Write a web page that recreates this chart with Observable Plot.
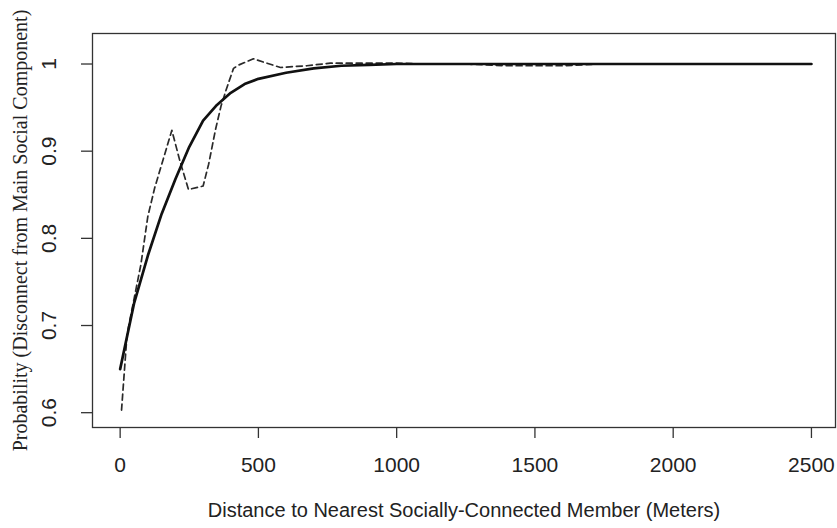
<!DOCTYPE html>
<html>
<head>
<meta charset="utf-8">
<script src="https://cdn.jsdelivr.net/npm/d3@7"></script>
<script src="https://cdn.jsdelivr.net/npm/@observablehq/plot@0.6"></script>
<style>
  html, body { margin: 0; padding: 0; background: #fff; }
</style>
</head>
<body>
<div id="chart"></div>
<script>
// Smoothed (solid) curve: distance (m) -> probability
const solidX = [0, 50, 100, 150, 200, 250, 300, 350, 400, 450, 500, 600, 700, 800, 900, 1000, 1250, 1500, 2000, 2500];
const solidY = [0.650, 0.725, 0.780, 0.828, 0.868, 0.905, 0.935, 0.953, 0.967, 0.977, 0.983, 0.990, 0.995, 0.998, 0.999, 1.0, 1.0, 1.0, 1.0, 1.0];

// Empirical (dashed) curve
const dashX = [5, 25, 50, 75, 100, 125, 155, 187, 215, 247, 300, 320, 345, 365, 385, 410, 430, 482, 530, 580, 675, 760, 1000, 1100, 1250, 1400, 1600, 1730];
const dashY = [0.603, 0.690, 0.730, 0.770, 0.825, 0.858, 0.890, 0.924, 0.890, 0.856, 0.860, 0.885, 0.925, 0.952, 0.972, 0.995, 0.999, 1.006, 1.001, 0.996, 0.998, 1.001, 1.001, 1.0, 1.0, 0.998, 0.998, 1.0];

const xTicks = [0, 500, 1000, 1500, 2000, 2500];
const yTicks = [0.6, 0.7, 0.8, 0.9, 1];
const yTickLabels = ["0.6", "0.7", "0.8", "0.9", "1"];

const xTitle = "Distance to Nearest Socially-Connected Member (Meters)";
const yTitle = "Probability (Disconnect from Main Social Component)";

const solid = solidX.map((x, i) => ({x, y: solidY[i]}));
const dashed = dashX.map((x, i) => ({x, y: dashY[i]}));
const yLabelData = yTicks.map((v, i) => ({v, label: yTickLabels[i]}));

const sans = "'Liberation Sans', Arial, sans-serif";

const chart = Plot.plot({
  width: 837,
  height: 528,
  marginLeft: 92,
  marginTop: 33,
  marginBottom: 101,
  marginRight: 2,
  style: {fontFamily: sans, background: "#fff", color: "#222"},
  x: {domain: [-100, 2587]},
  y: {domain: [0.583, 1.035]},
  marks: [
    Plot.frame({stroke: "#333", strokeWidth: 1.3}),
    Plot.axisX({ticks: xTicks, tickSize: 11, tickPadding: 19, fontSize: 21, tickFormat: d => String(d), stroke: "#333", strokeWidth: 1.3, label: null, fill: "#222"}),
    Plot.axisY({ticks: yTicks, tickSize: 11, text: null, stroke: "#333", strokeWidth: 1.3, label: null}),
    Plot.text(yLabelData, {y: "v", text: "label", frameAnchor: "left", dx: -43, rotate: -90, textAnchor: "middle", lineAnchor: "middle", fontSize: 21, fill: "#222"}),
    Plot.line(dashed, {x: "x", y: "y", stroke: "#2a2a2a", strokeWidth: 1.7, strokeDasharray: "6,4"}),
    Plot.line(solid, {x: "x", y: "y", stroke: "#111", strokeWidth: 2.7}),
    Plot.text([xTitle], {text: d => d, frameAnchor: "bottom", dy: 83, textAnchor: "middle", lineAnchor: "middle", fontSize: 20, fill: "#222"}),
    Plot.text([yTitle], {text: d => d, frameAnchor: "left", dx: -72, rotate: -90, textAnchor: "middle", lineAnchor: "middle", fontSize: 20, fontFamily: "'Liberation Serif', 'Times New Roman', serif", fill: "#222"})
  ]
});
document.getElementById("chart").appendChild(chart);
</script>
</body>
</html>
